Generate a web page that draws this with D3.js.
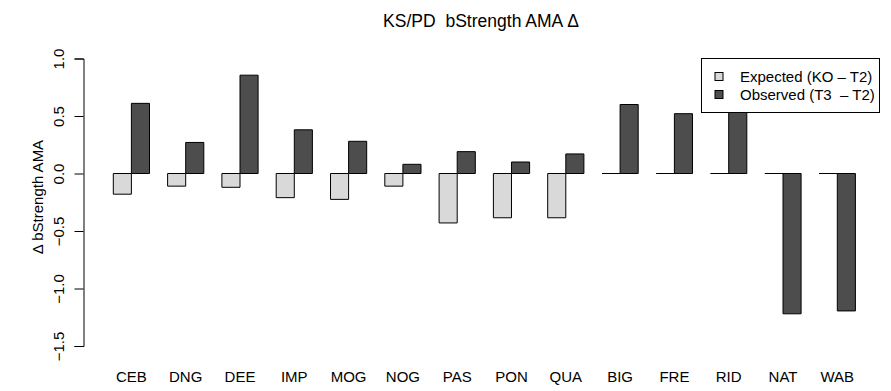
<!DOCTYPE html>
<html>
<head>
<meta charset="utf-8">
<script src="https://cdn.jsdelivr.net/npm/d3@7"></script>
<style>
  body { margin: 0; background: #fff; }
  text { font-family: "Liberation Sans", Arial, sans-serif; fill: #000; white-space: pre; }
</style>
</head>
<body>
<svg id="chart" width="891" height="391"></svg>
<script>
// data
const sites = ["CEB", "DNG", "DEE", "IMP", "MOG", "NOG", "PAS", "PON", "QUA", "BIG", "FRE", "RID", "NAT", "WAB"]
const expected = [-0.18, -0.11, -0.12, -0.21, -0.225, -0.11, -0.43, -0.385, -0.385, 0, 0, 0, 0, 0]
const observed = [0.61, 0.27, 0.855, 0.38, 0.28, 0.08, 0.19, 0.10, 0.17, 0.60, 0.52, 0.54, -1.22, -1.195]
const seriesNames = ["Expected (KO \u2013 T2)", "Observed (T3  \u2013 T2)"]
const seriesColors = ["#d9d9d9", "#4d4d4d"]
const yTicks = [-1.5, -1.0, -0.5, 0.0, 0.5, 1.0]

const fontBase = 15

const svg = d3.select("#chart")

// bar unit (R barplot: width 1, space c(0,1))
const unit = 18.1
const origin = 95.2

const x = d3.scaleBand()
  .domain(sites)
  .range([origin, origin + 43 * unit])
  .paddingInner(1 / 3)
  .paddingOuter(1 / 3)

const xSeries = d3.scaleBand()
  .domain([0, 1])
  .range([0, x.bandwidth()])

const y = d3.scaleLinear()
  .domain([-1.6, 1.1])
  .range([357.5, 47])

const rows = sites.map((s, i) => ({ site: s, values: [expected[i], observed[i]] }))

// path instead of rect so zero-height bars still show their border
const barPath = (x0, w, v) => {
  const y0 = y(0), y1 = y(v)
  return `M${x0},${y0}H${x0 + w}V${y1}H${x0}Z`
}

const groups = svg.append("g")
  .selectAll("g")
  .data(rows)
  .join("g")
  .attr("transform", d => `translate(${x(d.site)},0)`)

groups.selectAll("path")
  .data(d => d.values.map((v, k) => ({ k, v })))
  .join("path")
  .attr("d", d => barPath(xSeries(d.k), xSeries.bandwidth(), d.v))
  .attr("fill", d => seriesColors[d.k])
  .attr("stroke", "#000")
  .attr("stroke-width", 1)

// category labels
svg.append("g")
  .selectAll("text")
  .data(sites)
  .join("text")
  .attr("x", d => x(d) + x.bandwidth() / 2)
  .attr("y", 382)
  .attr("text-anchor", "middle")
  .attr("font-size", fontBase)
  .text(d => d)

// y axis, drawn only over the tick range like R
const yAxisScale = y.copy().domain([-1.5, 1.0]).range([y(-1.5), y(1.0)])
const yAxis = svg.append("g")
  .attr("transform", "translate(83.5,0)")
  .call(d3.axisLeft(yAxisScale)
    .tickValues(yTicks)
    .tickFormat(d3.format(".1f"))
    .tickSizeOuter(0)
    .tickSize(9))

yAxis.select(".domain").attr("stroke", "#000")
yAxis.selectAll(".tick line").attr("stroke", "#000")
yAxis.selectAll(".tick text")
  .attr("font-size", fontBase)
  .attr("font-family", "Liberation Sans, Arial, sans-serif")
  .attr("fill", "#000")
  .attr("x", null)
  .attr("dy", null)
  .attr("text-anchor", "middle")
  .attr("transform", "translate(-20,0) rotate(-90)")

// axis title
svg.append("text")
  .attr("transform", "translate(43,197) rotate(-90)")
  .attr("text-anchor", "middle")
  .attr("font-size", fontBase)
  .text("\u0394 bStrength AMA")

// main title
svg.append("text")
  .attr("x", 481)
  .attr("y", 27)
  .attr("text-anchor", "middle")
  .attr("font-size", fontBase * 1.17)
  .text("KS/PD  bStrength AMA \u0394")

// legend
const legend = svg.append("g").attr("transform", "translate(701.5,58.5)")
legend.append("rect")
  .attr("width", 178)
  .attr("height", 54)
  .attr("fill", "#fff")
  .attr("stroke", "#000")

const item = legend.selectAll("g")
  .data(seriesNames)
  .join("g")
  .attr("transform", (d, i) => `translate(0,${18 + i * 18})`)

item.append("rect")
  .attr("x", 13.5)
  .attr("y", -4)
  .attr("width", 8)
  .attr("height", 8)
  .attr("fill", (d, i) => seriesColors[i])
  .attr("stroke", "#000")

item.append("text")
  .attr("x", 38.5)
  .attr("y", 5.5)
  .attr("font-size", fontBase)
  .text(d => d)
</script>
</body>
</html>
